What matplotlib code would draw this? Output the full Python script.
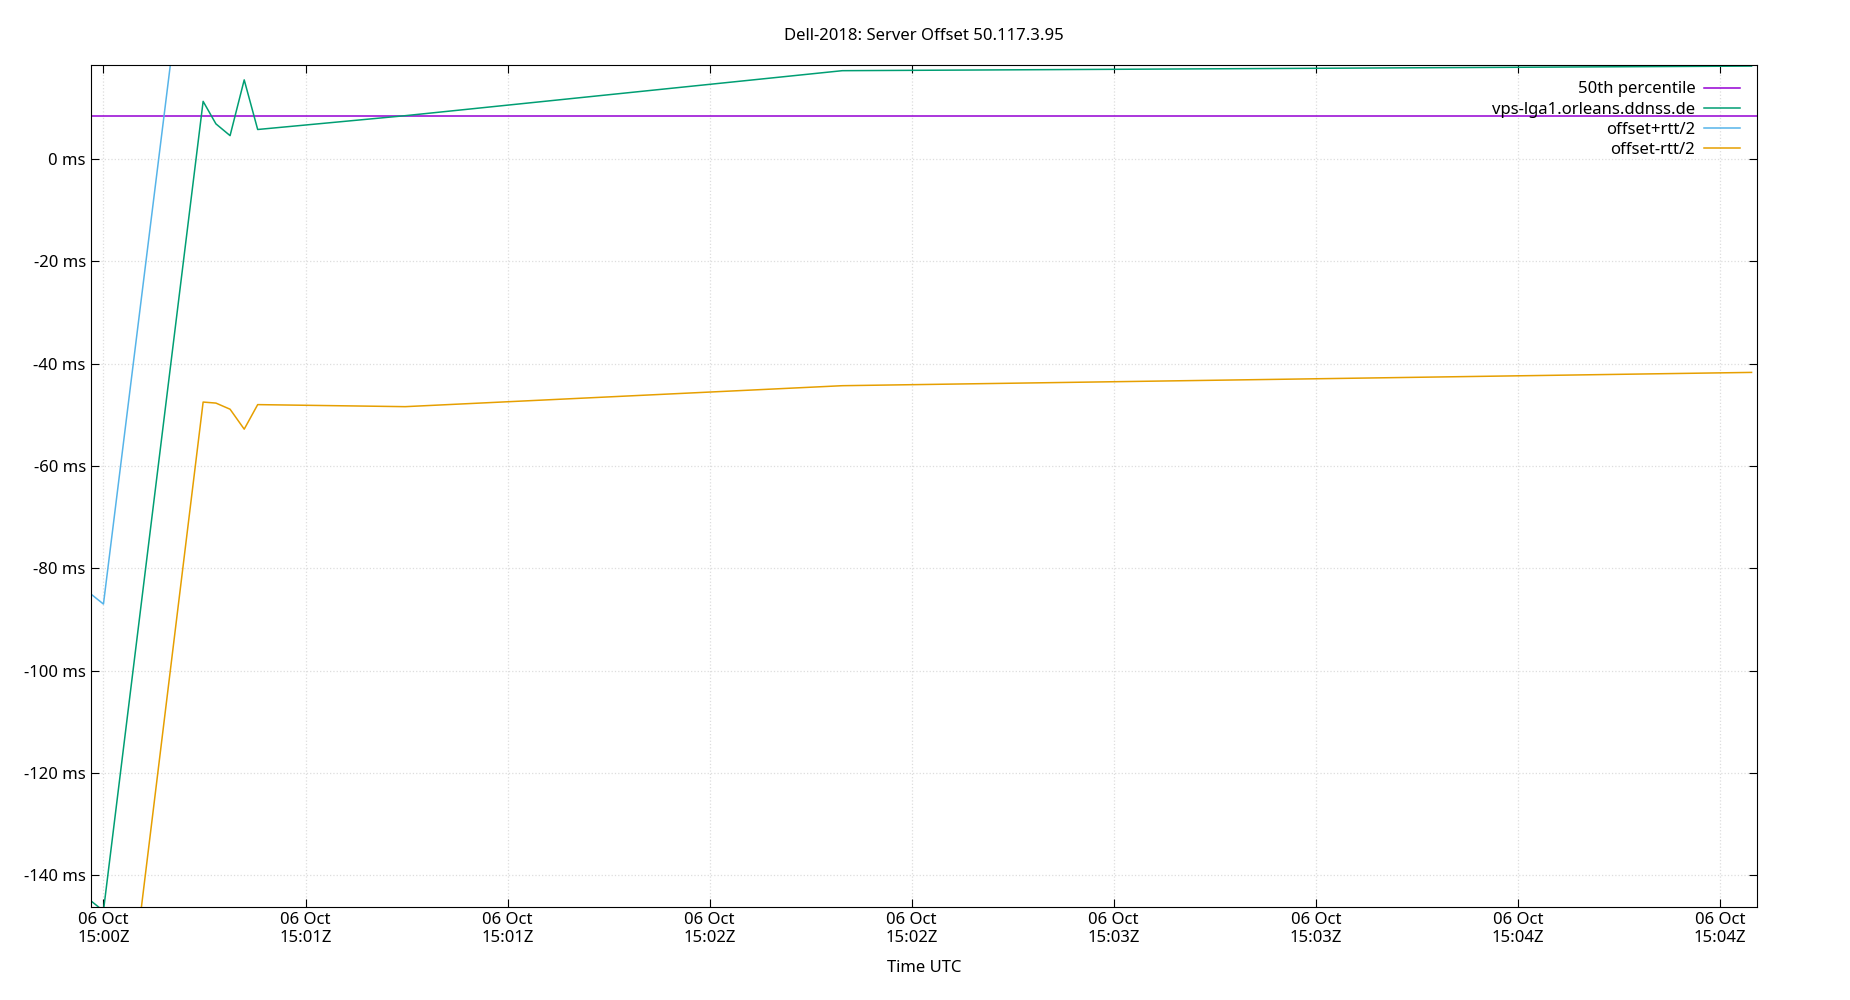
import matplotlib
matplotlib.use("Agg")
import matplotlib.pyplot as plt
import matplotlib.dates as mdates
import numpy as np
import datetime as dt

plt.rcParams['font.family'] = ['Noto Sans', 'DejaVu Sans']

base = dt.datetime(2018, 10, 6, 15, 0, 0)
secs = [-1.9, 0.0, 14.8, 16.7, 18.8, 20.9, 22.9, 44.8, 109.7, 244.7]
offset = [-145.0, -147.0, 11.3, 6.9, 4.6, 15.5, 5.8, 8.5, 17.3, 18.2]
low = [-205.0, -207.0, -47.5, -47.7, -48.9, -52.8, -48.0, -48.4, -44.3, -41.7]
high = [2 * o - l for o, l in zip(offset, low)]
median = 8.5

t = [base + dt.timedelta(seconds=s) for s in secs]

fig = plt.figure(figsize=(18.5, 10), dpi=100)
ax = fig.add_axes([0.049, 0.0932, 0.9007, 0.842])
ax.axhline(median, color='#9400d3', lw=1.1, label='50th percentile')
ax.plot(t, offset, color='#009e73', lw=1.1, label='vps-lga1.orleans.ddnss.de')
ax.plot(t, high, color='#56b4e9', lw=1.1, label='offset+rtt/2')
ax.plot(t, low, color='#e69f00', lw=1.1, label='offset-rtt/2')

ax.set_xlim(base + dt.timedelta(seconds=-1.9), base + dt.timedelta(seconds=245.5))
ax.set_ylim(-146.2, 18.45)
ax.xaxis.set_major_locator(mdates.SecondLocator(bysecond=[0, 30]))

def fmt(v, p):
    d = mdates.num2date(v) + dt.timedelta(seconds=30)
    return d.strftime('%d %b\n%H:%MZ')

ax.xaxis.set_major_formatter(matplotlib.ticker.FuncFormatter(fmt))
ax.set_yticks(np.arange(-140, 1, 20))
ax.yaxis.set_major_formatter(matplotlib.ticker.FuncFormatter(lambda v, p: f'{int(v)} ms'))
ax.tick_params(direction='in', top=True, right=True, labelsize=12, length=6)
ax.grid(True, color='#dddddd', ls=':', lw=0.9)
ax.set_xlabel('Time UTC', fontsize=12, labelpad=10)
ax.set_title('Dell-2018: Server Offset 50.117.3.95', fontsize=12, pad=18)
ax.legend(loc='upper right', frameon=False, markerfirst=False, fontsize=12,
          handlelength=2.2, handletextpad=0.5, labelspacing=0.25,
          borderaxespad=0.6)
fig.savefig('out.png', dpi=100)
